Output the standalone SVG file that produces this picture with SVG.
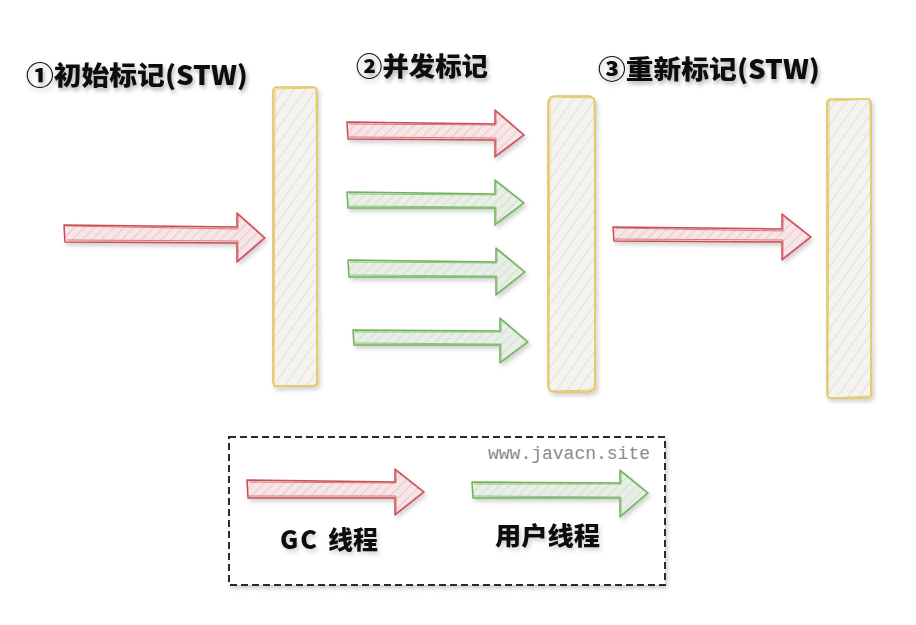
<svg xmlns="http://www.w3.org/2000/svg" width="916" height="625" viewBox="0 0 916 625">
<defs>
<filter id="sh" x="-20%" y="-20%" width="140%" height="150%">
<feDropShadow dx="2" dy="3" stdDeviation="2.2" flood-color="#000" flood-opacity="0.18"/>
</filter>
<filter id="tsh" x="-10%" y="-30%" width="120%" height="170%">
<feDropShadow dx="1.5" dy="3" stdDeviation="2" flood-color="#000" flood-opacity="0.3"/>
</filter>
<pattern id="hBar" width="9" height="9" patternUnits="userSpaceOnUse" patternTransform="rotate(-55)">
<rect width="9" height="9" fill="#f5f3ee"/>
<line x1="0" y1="4.5" x2="9" y2="4.5" stroke="#e2e0e0" stroke-width="1.1"/>
</pattern>
<pattern id="hRed" width="7" height="7" patternUnits="userSpaceOnUse" patternTransform="rotate(-45)">
<rect width="7" height="7" fill="#f6e6e8"/>
<line x1="0" y1="3.5" x2="7" y2="3.5" stroke="#efc9cd" stroke-width="1.2"/>
</pattern>
<pattern id="hGreen" width="7" height="7" patternUnits="userSpaceOnUse" patternTransform="rotate(-45)">
<rect width="7" height="7" fill="#e9efe8"/>
<line x1="0" y1="3.5" x2="7" y2="3.5" stroke="#d3e3cf" stroke-width="1.2"/>
</pattern>
<style>
.bar{fill:url(#hBar);stroke:#e0c25a;stroke-width:1.6}
.bar2{fill:none;stroke:#e6cc6c;stroke-width:1}
.ar{fill:url(#hRed);stroke:#cc4b55;stroke-width:1.5;stroke-linejoin:round}
.ar2{fill:none;stroke:#d66a72;stroke-width:0.9;stroke-linejoin:round}
.ag{fill:url(#hGreen);stroke:#6db35a;stroke-width:1.5;stroke-linejoin:round}
.ag2{fill:none;stroke:#83c071;stroke-width:0.9;stroke-linejoin:round}
.title{font-family:"Noto Sans CJK SC","Liberation Sans",sans-serif;font-weight:900;font-size:26px;fill:#111}
.lbl{font-family:"Noto Sans CJK SC","Liberation Sans",sans-serif;font-weight:900;font-size:25px;fill:#111}
.wm{font-family:"Liberation Mono","DejaVu Sans Mono",monospace;font-size:18px;fill:#8a8a8a}
</style>
</defs>
<rect width="916" height="625" fill="#ffffff"/>

<g id="titles" filter="url(#tsh)">
<text id="t1" class="title" x="26" y="85" textLength="222" lengthAdjust="spacingAndGlyphs">①初始标记(STW)</text>
<text id="t2" class="title" x="356" y="76" textLength="132" lengthAdjust="spacingAndGlyphs">②并发标记</text>
<text id="t3" class="title" x="598" y="79" textLength="222" lengthAdjust="spacingAndGlyphs">③重新标记(STW)</text>
</g>

<g id="bar1" filter="url(#sh)">
<rect class="bar" x="273" y="87" width="44" height="299" rx="4"/>
<path class="bar2" d="M275,89 L316,88 L318,385 L274,387 Z"/>
</g>
<g id="bar2" filter="url(#sh)">
<rect class="bar" x="548" y="96" width="47" height="296" rx="7"/>
<path class="bar2" d="M550,97 L594,98 L596,390 L549,391 Z"/>
</g>
<g id="bar3" filter="url(#sh)">
<rect class="bar" x="827" y="99" width="44" height="299" rx="4"/>
<path class="bar2" d="M829,101 L870,99 L872,396 L828,398 Z"/>
</g>

<g id="connectors" filter="url(#sh)">
<path class="ar" d="M64,225 L237,227 L237,213 L265,238 L237,262 L237,243 L65,242 Z"/>
<path class="ar2" d="M66,226 L238,229 L238,215 L264,238 L238,260 L238,241 L67,240"/>

<path class="ar" d="M347,122 L495,124 L495,110 L524,135 L495,157 L495,140 L348,139 Z"/>
<path class="ar2" d="M349,124 L496,125 L496,112 L523,135 L496,155 L496,138 L349,137"/>

<path class="ag" d="M347,192 L495,194 L495,180 L524,203 L495,225 L495,208 L348,208 Z"/>
<path class="ag2" d="M349,194 L496,195 L496,182 L523,203 L496,223 L496,207 L349,206"/>

<path class="ag" d="M348,260 L496,262 L496,248 L525,272 L496,295 L496,277 L349,277 Z"/>
<path class="ag2" d="M350,262 L497,263 L497,250 L524,272 L497,293 L497,276 L350,275"/>

<path class="ag" d="M353,330 L500,331 L500,318 L528,342 L500,363 L500,345 L354,345 Z"/>
<path class="ag2" d="M355,332 L501,332 L501,320 L527,342 L501,361 L501,344 L355,343"/>

<path class="ar" d="M613,227 L782,229 L782,214 L811,237 L782,260 L782,242 L614,241 Z"/>
<path class="ar2" d="M615,228 L783,231 L783,216 L810,237 L783,258 L783,240 L615,239"/>
</g>

<g id="legend">
<rect x="229" y="437" width="436" height="148" fill="#ffffff" stroke="#2a2a2a" stroke-width="2" stroke-dasharray="7 4" filter="url(#sh)"/>
<text class="wm" x="488" y="459">www.javacn.site</text>
<g id="legend-gc" filter="url(#sh)">
<path class="ar" d="M247,480 L395,482 L395,469 L424,492 L395,515 L395,498 L248,498 Z"/>
<path class="ar2" d="M249,482 L396,483 L396,471 L423,492 L396,513 L396,496 L249,496"/>
<text class="lbl" x="280" y="549"><tspan letter-spacing="2">GC</tspan> <tspan x="328">线程</tspan></text>
</g>
<g id="legend-user" filter="url(#sh)">
<path class="ag" d="M472,482 L620,483 L620,470 L648,493 L620,517 L620,498 L473,498 Z"/>
<path class="ag2" d="M474,484 L621,484 L621,472 L647,493 L621,515 L621,497 L474,496"/>
<text class="lbl" x="495" y="545" textLength="105" lengthAdjust="spacingAndGlyphs">用户线程</text>
</g>
</g>
</svg>
